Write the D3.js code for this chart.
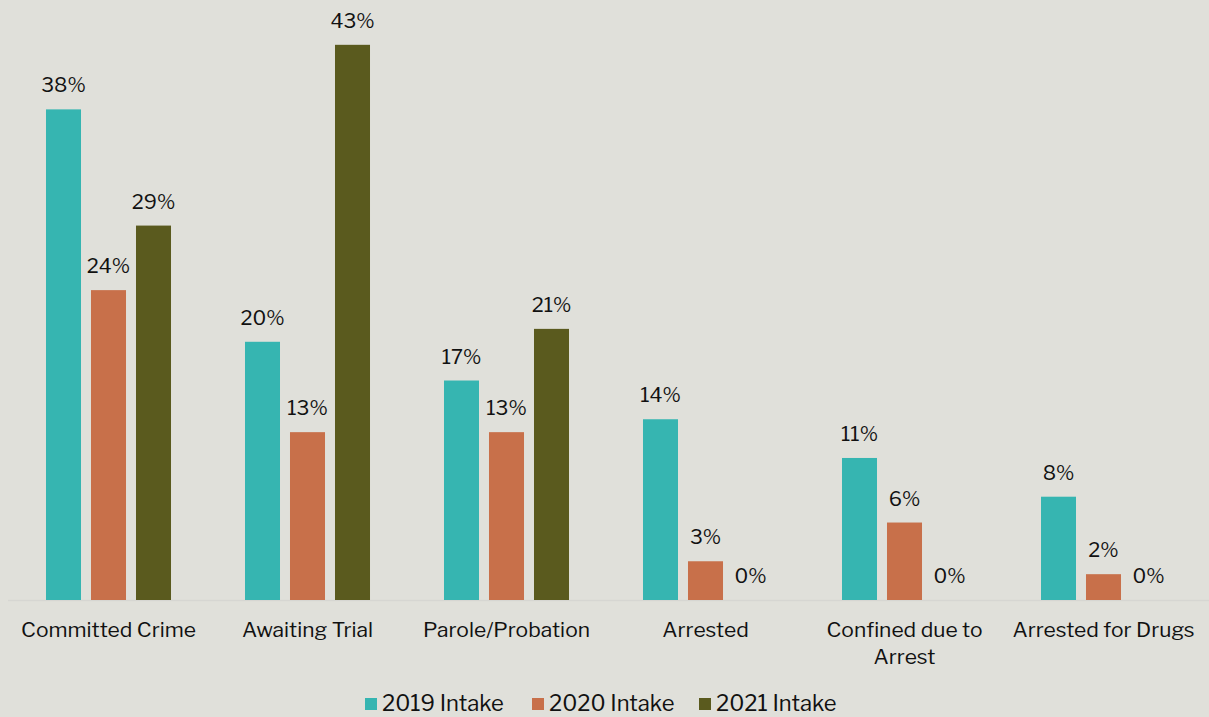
<!DOCTYPE html>
<html>
<head>
<meta charset="utf-8">
<script src="https://cdn.jsdelivr.net/npm/d3@7"></script>
<style>
  html, body { margin: 0; padding: 0; background: #e0e0da; }
  svg { display: block; }
  text { font-family: "Libre Franklin", "Liberation Sans", Arial, sans-serif; fill: #111; }
</style>
</head>
<body>
<svg id="chart" width="1209" height="717"></svg>
<script>
// Reasons reported at intake, share of youth by intake year
const categories = ["Committed Crime", "Awaiting Trial", "Parole/Probation", "Arrested", "Confined due to Arrest", "Arrested for Drugs"];
const seriesNames = ["2019 Intake", "2020 Intake", "2021 Intake"];
const intake2019 = [38, 20, 17, 14, 11, 8];
const intake2020 = [24, 13, 13, 3, 6, 2];
const intake2021 = [29, 43, 21, 0, 0, 0];
const seriesColors = ["#36b5b1", "#c8704a", "#5a5a1e"];

const seriesValues = [intake2019, intake2020, intake2021];

const svg = d3.select("#chart");
const W = 1209, H = 717;
const margin = { left: 9, right: 6, top: 19, bottom: 117 };
const baseY = H - margin.bottom;

const x0 = d3.scaleBand()
  .domain(categories)
  .range([margin.left, W - margin.right])
  .paddingInner(0)
  .paddingOuter(0);

const x1 = d3.scaleBand()
  .domain(seriesNames)
  .range([0, x0.bandwidth()])
  .paddingInner(0.222)
  .paddingOuter(0.822);

const y = d3.scaleLinear()
  .domain([0, 45])
  .range([baseY, margin.top]);

// Baseline
svg.append("line")
  .attr("x1", margin.left - 1).attr("x2", W)
  .attr("y1", baseY + 0.5).attr("y2", baseY + 0.5)
  .attr("stroke", "#d6d6d2").attr("stroke-width", 1.5);

const groups = svg.selectAll("g.cat")
  .data(categories)
  .join("g")
  .attr("class", "cat")
  .attr("transform", d => `translate(${x0(d)},0)`);

seriesNames.forEach((name, si) => {
  groups.append("rect")
    .attr("x", x1(name))
    .attr("width", x1.bandwidth())
    .attr("y", (d, ci) => y(seriesValues[si][ci]))
    .attr("height", (d, ci) => baseY - y(seriesValues[si][ci]))
    .attr("fill", seriesColors[si]);

  groups.append("text")
    .attr("x", x1(name) + x1.bandwidth() / 2)
    .attr("y", (d, ci) => y(seriesValues[si][ci]) - 17)
    .attr("text-anchor", "middle")
    .attr("font-size", 20)
    .text((d, ci) => seriesValues[si][ci] + "%");
});

// Category axis labels (wrapped to the band width)
const xAxis = d3.axisBottom(x0).tickSize(0).tickPadding(0);
const axisG = svg.append("g")
  .attr("transform", `translate(0,${baseY})`)
  .call(xAxis);
axisG.select(".domain").remove();
axisG.selectAll(".tick text")
  .attr("font-size", 21)
  .attr("fill", "#111")
  .style("font-family", "\"Libre Franklin\", \"Liberation Sans\", Arial, sans-serif")
  .attr("y", 0)
  .attr("dy", null)
  .each(function(d) {
    const t = d3.select(this);
    const lines = d === "Confined due to Arrest" ? ["Confined due to", "Arrest"] : [d];
    t.text(null);
    lines.forEach((ln, i) => {
      t.append("tspan")
        .attr("x", 0)
        .attr("y", 37 + i * 27)
        .text(ln);
    });
  });

// Legend
const legend = svg.append("g").attr("transform", `translate(0,${H - 6})`);
const legendX = [365, 532, 699];
seriesNames.forEach((name, i) => {
  const g = legend.append("g").attr("transform", `translate(${legendX[i]},0)`);
  g.append("rect").attr("x", 0).attr("y", -13).attr("width", 12).attr("height", 12).attr("fill", seriesColors[i]);
  g.append("text").attr("x", 17).attr("y", 0).attr("font-size", 22).text(name);
});
</script>
</body>
</html>
